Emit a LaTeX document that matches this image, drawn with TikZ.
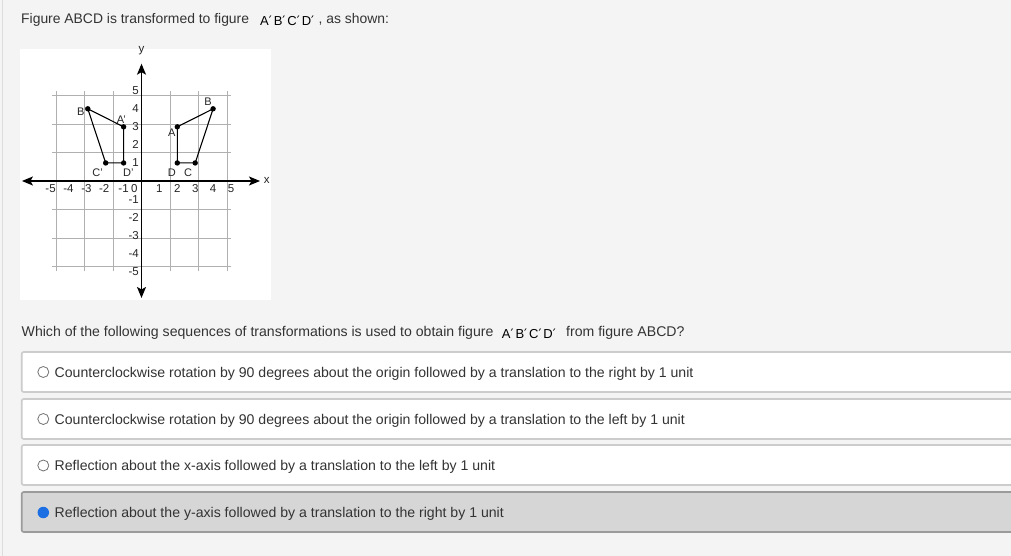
\documentclass[tikz,border=0pt]{standalone}
\usepackage{fontspec}
\setmainfont{Liberation Sans}
\newfontfamily\dejavu{DejaVu Sans}
\usetikzlibrary{arrows.meta}
\definecolor{pagebg}{HTML}{F4F4F4}
\definecolor{edgeline}{HTML}{DDDDDD}
\definecolor{boxborder}{HTML}{CCCCCC}
\definecolor{selfill}{HTML}{D6D6D6}
\definecolor{selborder}{HTML}{9B9B9B}
\definecolor{txt}{HTML}{333333}
\definecolor{gridgray}{HTML}{B0B0B0}
\definecolor{radioblue}{HTML}{1C6FE3}
\newcommand{\prm}{{\dejavu ′}}
\newcommand{\ABCDp}{A\prm\kern2pt B\prm\kern2pt C\prm\kern2pt D\prm}
\begin{document}
\begin{tikzpicture}[x=1pt,y=-1pt,
  body/.style={anchor=base west, inner sep=0pt, text=txt, font=\fontsize{14.1}{17}\selectfont},
  head/.style={anchor=base west, inner sep=0pt, text=txt, font=\fontsize{13.9}{17}\selectfont},
  primed/.style={anchor=base west, inner sep=0pt, text=black, font=\fontsize{13}{15}\selectfont},
  optbox/.style={draw=boxborder, line width=1.6pt, fill=white, rounded corners=2pt},
  selbox/.style={draw=selborder, line width=1.6pt, fill=selfill, rounded corners=2pt},
  radio/.style={circle, draw=black!55, line width=0.8pt, fill=white, minimum size=11pt, inner sep=0pt},
  radiosel/.style={circle, fill=radioblue, minimum size=11.5pt, inner sep=0pt},
  gridline/.style={gridgray, line width=0.7pt},
  axisline/.style={black, line width=1.3pt, {Stealth[length=11pt,width=9pt,inset=2.5pt]}-{Stealth[length=11pt,width=9pt,inset=2.5pt]}},
  shapeline/.style={black, line width=1.1pt, line join=round},
  tick/.style={inner sep=0pt, text=black!85, font=\fontsize{11.5}{13}\selectfont},
  ptlabel/.style={inner sep=0pt, text=black!85, font=\fontsize{11}{12}\selectfont},
  dot/.style={black}
]
\useasboundingbox[fill=pagebg] (0,0) rectangle (1011,556);
\clip (0,0) rectangle (1011,556);
\draw[edgeline, line width=1pt] (2.5,0) -- (2.5,556);

% header text
\node[head] (h1) at (21,24) {Figure ABCD is transformed to figure};
\node[primed] (h1p) at (260,26) {\ABCDp};
\node[head] (h1e) at (318.5,24) {, as shown:};

% graph
\begin{scope}[shift={(141.5,181)}, x=17.9pt, y=18.05pt]
  \fill[white] (-6.79,7.31) rectangle (7.23,-6.59);
  \draw[gridline] (-5,-5) grid (5,5);
  \coordinate (xl) at (-6.68,0);
  \coordinate (xr) at (6.62,0);
  \coordinate (yt) at (0,6.5);
  \coordinate (yb) at (0,-6.48);
  \draw[axisline] (xl) -- (xr);
  \draw[axisline] (yb) -- (yt);
  \node[tick] (xlab) at (7.0,0.05) {x};
  \node[tick] (ylab) at (0,7.2) {y};
  \foreach \i in {-5,-4,-3,-2} \node[tick] at (\i-0.08,-0.40) {-\the\numexpr-\i\relax};
  \node[tick] (xm1) at (-1,-0.40) {-1};
  \node[tick] (x0) at (-0.4,-0.40) {0};
  \foreach \i in {1,...,5} \node[tick] at (\i,-0.40) {\i};
  \foreach \j in {1,...,5} \node[tick, anchor=east] at (-0.14,\j) {\j};
  \foreach \j in {1,...,5} \node[tick, anchor=east] at (-0.14,-\j) {-\j};

  % figure ABCD
  \coordinate (A) at (2,3);
  \coordinate (B) at (4,4);
  \coordinate (C) at (3,1);
  \coordinate (D) at (2,1);
  % figure A'B'C'D'
  \coordinate (A') at (-1,3);
  \coordinate (B') at (-3,4);
  \coordinate (C') at (-2,1);
  \coordinate (D') at (-1,1);
  \draw[shapeline] (A) -- (B) -- (C) -- (D) -- cycle;
  \draw[shapeline] (A') -- (B') -- (C') -- (D') -- cycle;
  \foreach \p in {A,B,C,D,A',B',C',D'} \fill[dot] (\p) circle (2.7pt);

  \node[ptlabel] (lA) at (1.69,2.66) {A};
  \node[ptlabel] (lB) at (3.72,4.38) {B};
  \node[ptlabel] (lC) at (2.6,0.48) {C};
  \node[ptlabel] (lD) at (1.69,0.44) {D};
  \node[ptlabel] (lA') at (-1.12,3.38) {A'};
  \node[ptlabel] (lB') at (-3.32,3.84) {B'};
  \node[ptlabel] (lC') at (-2.45,0.46) {C'};
  \node[ptlabel] (lD') at (-0.73,0.44) {D'};
\end{scope}

% question
\node[body] (q1) at (21.5,336.3) {Which of the following sequences of transformations is used to obtain figure};
\node[primed] (q1p) at (501.7,338.3) {\ABCDp};
\node[body] (q1e) at (566,336.3) {from figure ABCD?};

% options
\draw[optbox] (21.7,352) rectangle (1030,392);
\draw[optbox] (21.7,399) rectangle (1030,439);
\draw[optbox] (21.7,445) rectangle (1030,485);
\draw[selbox] (21.7,492) rectangle (1030,532);

\node[radio] (r1) at (43.3,372) {};
\node[radio] (r2) at (43.3,419) {};
\node[radio] (r3) at (43.3,465.5) {};
\node[radiosel] (r4) at (43.3,512.5) {};

\node[body] (o1) at (54.5,377.3) {Counterclockwise rotation by 90 degrees about the origin followed by a translation to the right by 1 unit};
\node[body] (o2) at (54.5,424.3) {Counterclockwise rotation by 90 degrees about the origin followed by a translation to the left by 1 unit};
\node[body] (o3) at (54.5,470.8) {Reflection about the x-axis followed by a translation to the left by 1 unit};
\node[body] (o4) at (54.5,517.8) {Reflection about the y-axis followed by a translation to the right by 1 unit};
\end{tikzpicture}
\end{document}
